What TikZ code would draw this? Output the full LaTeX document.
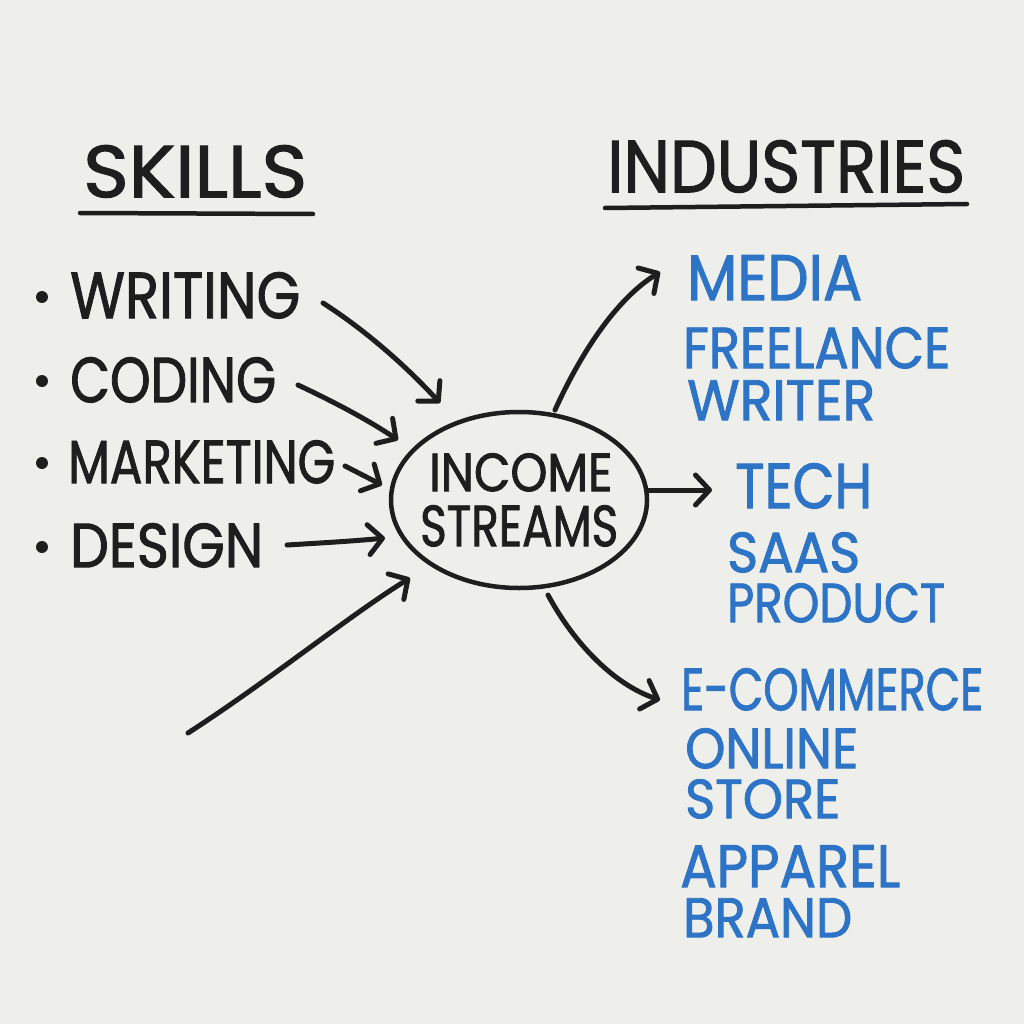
\documentclass[tikz,border=0pt]{standalone}
\usepackage{fontspec}
\setmainfont{Poppins}[FakeBold=1.6]
\usetikzlibrary{arrows.meta,shapes.geometric}
\definecolor{bg}{HTML}{EEEEEA}
\definecolor{ink}{HTML}{1E1E1E}
\definecolor{mblue}{HTML}{2E74C6}
\newcommand{\fitt}[3]{\resizebox{#1pt}{#2pt}{#3}}
\tikzset{
  lbl/.style={inner sep=0pt, anchor=north west, text=ink},
  blbl/.style={inner sep=0pt, anchor=north west, text=mblue},
  bul/.style={circle, fill=ink, inner sep=0pt, minimum size=12pt},
  arr/.style={draw=ink, line width=5pt, line cap=round,
    -{Straight Barb[length=14pt,width=30pt,line width=5pt,round]}},
  uline/.style={draw=ink, line width=4.5pt, line cap=round}
}
\begin{document}
\begin{tikzpicture}[x=1pt,y=-1pt]
\fill[bg] (0,0) rectangle (1024,1024);
\useasboundingbox (0,0) rectangle (1024,1024);
% headings
\node[lbl] (skills) at (83,145) {\fitt{224}{52}{SKILLS}};
\node[lbl] (industries) at (607,140) {\fitt{358}{52}{INDUSTRIES}};
\coordinate (su1) at (80,213); \coordinate (su2) at (313,214);
\coordinate (iu1) at (605,208); \coordinate (iu2) at (967,204);
\draw[uline] (su1) -- (su2);
\draw[uline] (iu1) -- (iu2);
% skills
\node[bul] (b1) at (42,297) {};
\node[bul] (b2) at (42,381) {};
\node[bul] (b3) at (42,463) {};
\node[bul] (b4) at (42,547) {};
\node[lbl] (writing) at (70,272) {\fitt{230}{46}{WRITING}};
\node[lbl] (coding) at (70,357) {\fitt{206}{45}{CODING}};
\node[lbl] (marketing) at (68,440) {\fitt{267}{43}{MARKETING}};
\node[lbl] (design) at (70,523) {\fitt{193}{44}{DESIGN}};
% center
\node[ellipse, draw=ink, line width=4.5pt, minimum width=256pt, minimum height=176pt, inner sep=0pt] (inc) at (519,500) {};
\node[lbl] (income) at (429,453) {\fitt{183}{38}{INCOME}};
\node[lbl] (streams) at (420,505) {\fitt{198}{41}{STREAMS}};
% industries
\node[blbl] (media) at (687,255) {\fitt{175}{45}{MEDIA}};
\node[blbl] (freelance) at (683,327) {\fitt{267}{41}{FREELANCE}};
\node[blbl] (writer) at (687,380) {\fitt{188}{40}{WRITER}};
\node[blbl] (tech) at (735,463) {\fitt{137}{45}{TECH}};
\node[blbl] (saas) at (727,532) {\fitt{133}{40}{SAAS}};
\node[blbl] (product) at (727,583) {\fitt{218}{39}{PRODUCT}};
\node[blbl] (ecom) at (681,668) {\fitt{302}{42}{E-COMMERCE}};
\node[blbl] (online) at (685,728) {\fitt{173}{40}{ONLINE}};
\node[blbl] (store) at (685,779) {\fitt{155}{39}{STORE}};
\node[blbl] (apparel) at (680,845) {\fitt{220}{42}{APPAREL}};
\node[blbl] (brand) at (683,898) {\fitt{169}{39}{BRAND}};
% arrow end points
\coordinate (w0) at (323,303); \coordinate (w1) at (440,403);
\coordinate (c0) at (298,385); \coordinate (c1) at (398,440);
\coordinate (m0) at (345,466); \coordinate (m1) at (382,485);
\coordinate (d0) at (287,545); \coordinate (d1) at (385,538);
\coordinate (f0) at (188,733); \coordinate (f1) at (410,578);
\coordinate (me0) at (555,410); \coordinate (me1) at (660,272);
\coordinate (t0) at (647,490); \coordinate (t1) at (712,490);
\coordinate (e0) at (548,595); \coordinate (e1) at (660,700);
\draw[arr] (w0) .. controls (365,330) and (405,365) .. (w1);
\draw[arr] (c0) .. controls (330,400) and (365,418) .. (c1);
\draw[arr] (m0) -- (m1);
\draw[arr] (d0) .. controls (320,543) and (355,541) .. (d1);
\draw[arr] (f0) .. controls (270,680) and (350,615) .. (f1);
\draw[arr] (me0) .. controls (580,355) and (615,300) .. (me1);
\draw[arr] (t0) -- (t1);
\draw[arr] (e0) .. controls (575,645) and (615,685) .. (e1);
\end{tikzpicture}
\end{document}
